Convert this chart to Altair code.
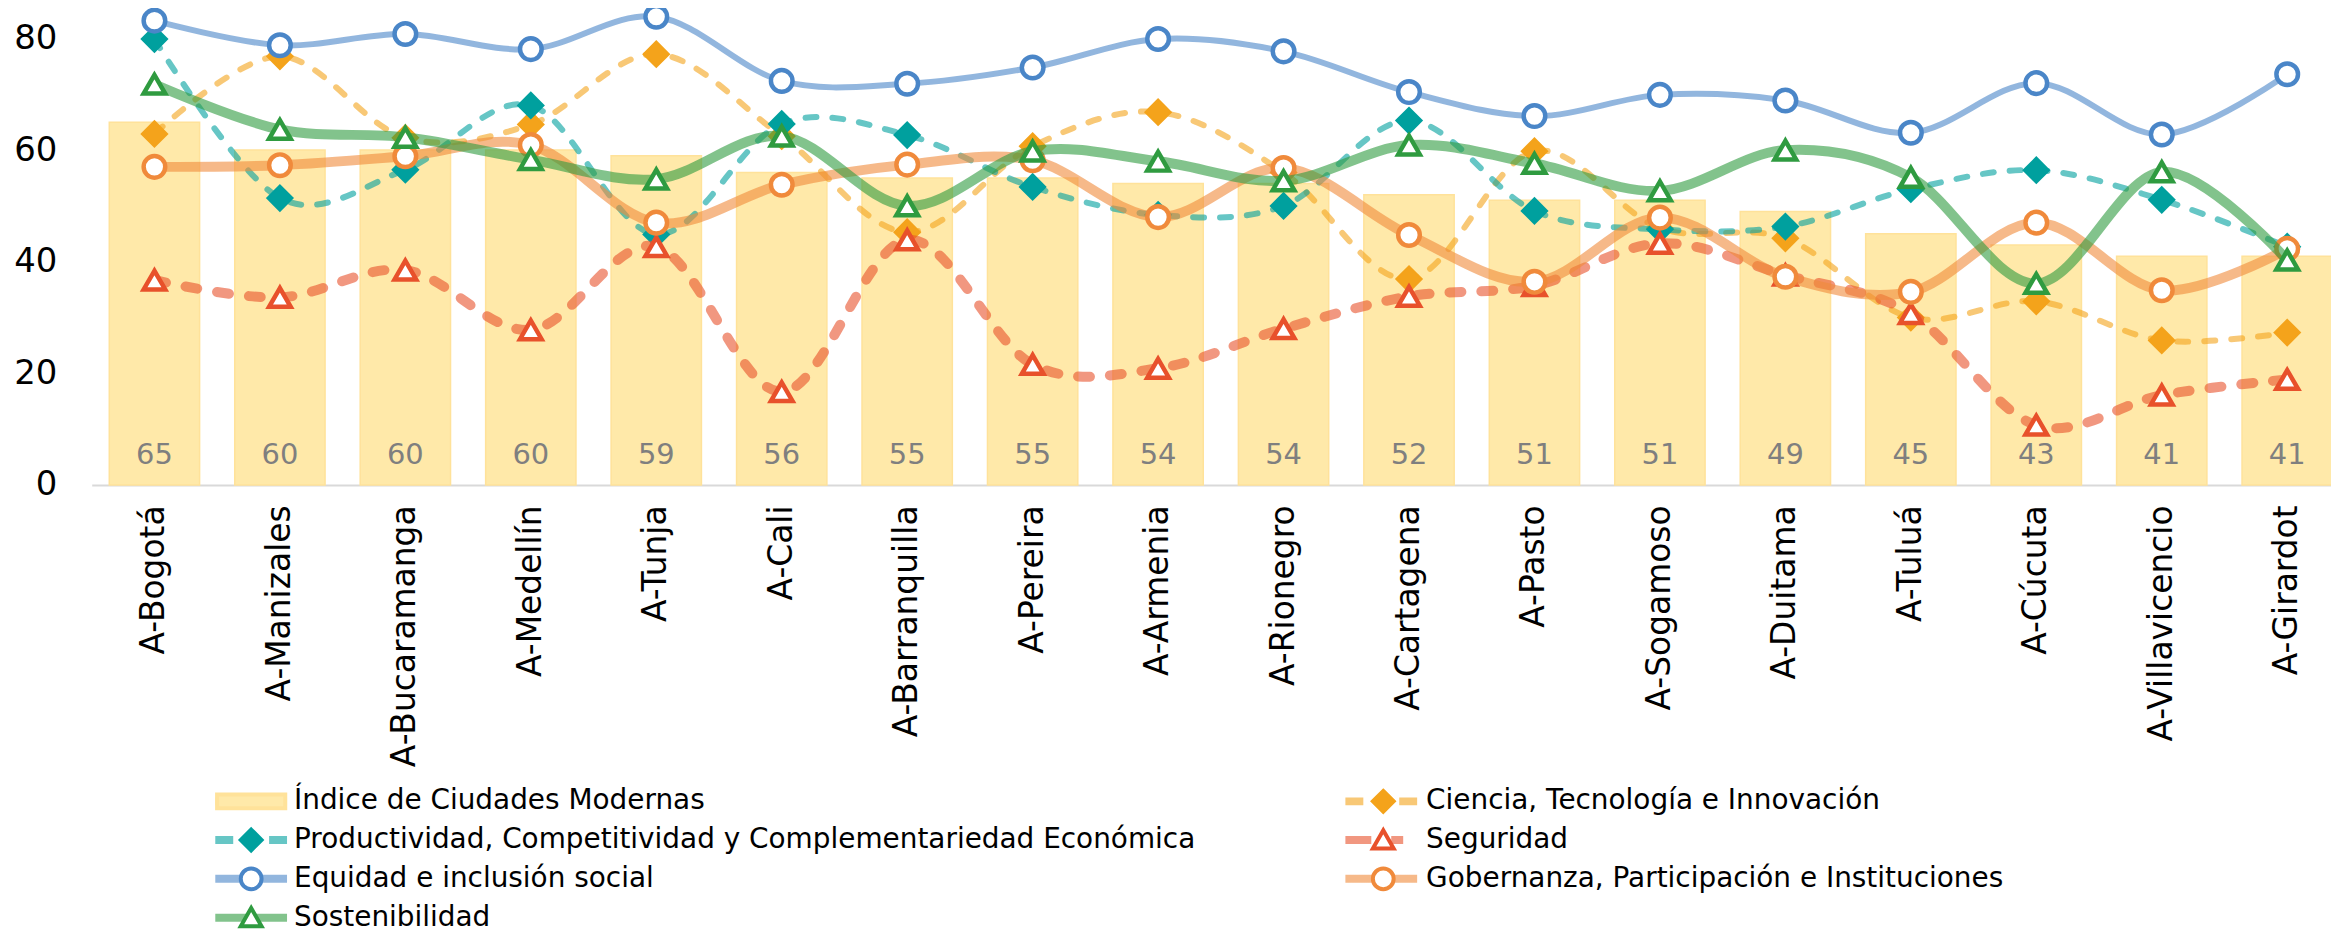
import altair as alt
import pandas as pd

# ---------------- data ----------------
ciudades = ["A-Bogotá", "A-Manizales", "A-Bucaramanga", "A-Medellín", "A-Tunja", "A-Cali",
            "A-Barranquilla", "A-Pereira", "A-Armenia", "A-Rionegro", "A-Cartagena", "A-Pasto",
            "A-Sogamoso", "A-Duitama", "A-Tuluá", "A-Cúcuta", "A-Villavicencio", "A-Girardot"]
indice = [65, 60, 60, 60, 59, 56, 55, 55, 54, 54, 52, 51, 51, 49, 45, 43, 41, 41]
productividad = [79.9, 51.4, 56.5, 68.0, 44.9, 64.7, 62.7, 53.4, 48.4, 50.0, 65.3, 49.1,
                 45.8, 46.3, 53.0, 56.4, 51.1, 42.7]
ciencia = [62.9, 76.8, 62.2, 64.6, 77.2, 62.5, 45.3, 60.7, 66.8, 56.0, 36.9, 59.8,
           46.0, 44.2, 30.0, 32.9, 25.9, 27.3]
seguridad = [36.7, 33.6, 38.5, 27.8, 42.7, 16.7, 43.9, 21.6, 20.9, 28.0, 33.8, 35.7,
             43.3, 37.6, 30.7, 10.7, 16.1, 18.9]
equidad = [83.2, 78.8, 80.8, 78.1, 83.9, 72.4, 71.9, 74.8, 79.9, 77.7, 70.4, 66.1,
           69.9, 68.9, 63.1, 72.0, 62.8, 73.6]
gobernanza = [57.0, 57.3, 58.9, 60.9, 47.0, 53.8, 57.4, 58.2, 48.0, 56.8, 44.8, 36.4,
              47.9, 37.3, 34.6, 47.0, 34.9, 42.3]
sostenibilidad = [71.8, 63.7, 62.3, 58.3, 54.8, 62.5, 50.0, 59.8, 58.0, 54.5, 60.9, 57.6,
                  52.7, 60.0, 55.1, 36.1, 56.1, 40.3]

IDX = "Índice de Ciudades Modernas"
PROD = "Productividad, Competitividad y Complementariedad Económica"
EQ = "Equidad e inclusión social"
SOS = "Sostenibilidad"
CIE = "Ciencia, Tecnología e Innovación"
SEG = "Seguridad"
GOB = "Gobernanza, Participación e Instituciones"

legend_order = [IDX, PROD, EQ, SOS, CIE, SEG, GOB]
draw_order = [CIE, PROD, SEG, EQ, GOB, SOS]
valores = {CIE: ciencia, PROD: productividad, SEG: seguridad, EQ: equidad,
           GOB: gobernanza, SOS: sostenibilidad}

bars_df = pd.DataFrame({"ciudad": ciudades, "indice": indice})
long_df = pd.DataFrame([
    {"ciudad": c, "serie": s, "valor": v}
    for s in draw_order for c, v in zip(ciudades, valores[s])
])
# copy of the series name used by the line-part of the legend
long_df["serie_l"] = long_df["serie"] + " "
legend_order_l = [s + " " for s in legend_order]

# ---------------- styles ----------------
color = {IDX: "#FFE29A", PROD: "#00A09E", EQ: "#4A86C8", SOS: "#2F9B40",
         CIE: "#F4A31B", SEG: "#E8512B", GOB: "#F08A3B"}
light = {IDX: "#FFE9A9", PROD: "#66C6C5", EQ: "#92B6DE", SOS: "#82C38C",
         CIE: "#F8C876", SEG: "#F19780", GOB: "#F6B989"}
fill = {IDX: "#FFE9A9", PROD: "#00A09E", EQ: "#FFFFFF", SOS: "#FFFFFF",
        CIE: "#F4A31B", SEG: "#FFFFFF", GOB: "#FFFFFF"}
legend_dash = {IDX: [1, 0], PROD: [18, 36, 18, 0], EQ: [1, 0], SOS: [1, 0],
               CIE: [18, 36, 18, 0], SEG: [26, 20, 12, 40], GOB: [1, 0]}

circle_p = "M0.29,0A0.29,0.29 0 1,1 -0.29,0A0.29,0.29 0 1,1 0.29,0Z"
diamond_p = "M0,-0.29L0.29,0L0,0.29L-0.29,0Z"
tri_p = "M0,-0.27L0.29,0.24L-0.29,0.24Z"
marker_path = {IDX: "M-0.95,-0.19H0.95V0.19H-0.95Z", PROD: diamond_p, EQ: circle_p,
               SOS: tri_p, CIE: diamond_p, SEG: tri_p, GOB: circle_p}

line_style = {
    CIE: dict(strokeWidth=6, strokeDash=[11, 16]),
    PROD: dict(strokeWidth=6, strokeDash=[11, 16]),
    SEG: dict(strokeWidth=10, strokeDash=[12, 20]),
    EQ: dict(strokeWidth=6),
    GOB: dict(strokeWidth=10),
    SOS: dict(strokeWidth=10),
}
point_style = {
    CIE: dict(shape="diamond", size=650, strokeWidth=2),
    PROD: dict(shape="diamond", size=650, strokeWidth=2),
    SEG: dict(shape="triangle-up", size=470, strokeWidth=4.5),
    EQ: dict(shape="circle", size=470, strokeWidth=4.5),
    GOB: dict(shape="circle", size=470, strokeWidth=4.5),
    SOS: dict(shape="triangle-up", size=470, strokeWidth=4.5),
}

FONT = "DejaVu Sans"

x_scale = alt.Scale(range=[0, 2266], paddingInner=0.28, paddingOuter=0.14)
y_scale = alt.Scale(domain=[0, 85.18], nice=False)
stroke_scale = alt.Scale(domain=legend_order, range=[color[s] for s in legend_order])
fill_scale = alt.Scale(domain=legend_order, range=[fill[s] for s in legend_order])
shape_scale = alt.Scale(domain=legend_order, range=[marker_path[s] for s in legend_order])
lcolor_scale = alt.Scale(domain=legend_order_l, range=[light[s] for s in legend_order])
ldash_scale = alt.Scale(domain=legend_order_l, range=[legend_dash[s] for s in legend_order])

x_axis = alt.Axis(title=None, labelAngle=-90, labelFont=FONT, labelFontSize=33,
                  labelColor="#000000", ticks=False, domainColor="#D9D9D9", domainWidth=2,
                  labelPadding=20, grid=False, labelLimit=500, labelOverlap=False)
y_axis = alt.Axis(title=None, values=[0, 20, 40, 60, 80], labelFont=FONT, labelFontSize=34,
                  labelColor="#000000", domain=False, ticks=False, grid=False, labelPadding=35)

X = alt.X("ciudad:N", sort=ciudades, scale=x_scale, axis=x_axis)

bars = alt.Chart(bars_df).mark_bar(fill=fill[IDX], stroke=color[IDX], strokeWidth=1.5).encode(
    x=X, y=alt.Y("indice:Q", scale=y_scale, axis=y_axis)
)
bar_labels = alt.Chart(bars_df).mark_text(
    font=FONT, fontSize=29, color="#7F7F7F", dy=-30, baseline="middle"
).encode(x=X, y=alt.datum(0), text="indice:Q")

common_leg = dict(title=None, orient="none", legendX=122, legendY=775, columns=2,
                  columnPadding=150, rowPadding=0, clipHeight=38.5, symbolSize=5184,
                  symbolOpacity=1, labelFont=FONT, labelFontSize=28, labelLimit=2000)
# markers + labels (on top)
leg_m = alt.Legend(symbolStrokeWidth=4, labelOffset=5, labelColor="#000000", zindex=2,
                   **common_leg)
# line parts of the legend symbols (underneath, labels invisible)
leg_l = alt.Legend(symbolStrokeWidth=8, symbolOffset=-2, labelOffset=1,
                   labelColor="transparent", labelExpr="trim(datum.label)",
                   symbolType="stroke", zindex=1, **common_leg)

legend_markers = alt.Chart(long_df).transform_filter(alt.datum.valor < 0).mark_point(
    filled=True, opacity=1, strokeWidth=4
).encode(
    x=X, y=alt.Y("valor:Q"),
    shape=alt.Shape("serie:N", scale=shape_scale, legend=leg_m),
    fill=alt.Fill("serie:N", scale=fill_scale, legend=leg_m),
    stroke=alt.Stroke("serie:N", scale=stroke_scale, legend=leg_m),
)
legend_lines = alt.Chart(long_df).transform_filter(alt.datum.valor < 0).mark_line(
    opacity=1, strokeWidth=8
).encode(
    x=X, y=alt.Y("valor:Q"),
    color=alt.Color("serie_l:N", scale=lcolor_scale, legend=leg_l),
    strokeDash=alt.StrokeDash("serie_l:N", scale=ldash_scale, legend=leg_l),
)

layers = [legend_lines, legend_markers, bars, bar_labels]
for s in draw_order:
    sub = alt.Chart(long_df).transform_filter(alt.datum.serie == s)
    layers.append(
        sub.mark_line(interpolate="cardinal", strokeCap="round", opacity=0.6,
                      stroke=color[s], **line_style[s]).encode(
            x=X, y=alt.Y("valor:Q"),
        )
    )
    layers.append(
        sub.mark_point(filled=True, opacity=1, fill=fill[s], stroke=color[s],
                       **point_style[s]).encode(
            x=X, y=alt.Y("valor:Q"),
        )
    )

chart = alt.layer(*layers).properties(
    width=2247, height=477,
    autosize=alt.AutoSizeParams(type="none"),
    padding={"left": 84, "top": 0, "right": 0, "bottom": 451},
    background="white",
).configure_view(stroke=None)

chart.save("out.html", embed_options={"renderer": "svg", "actions": False})
